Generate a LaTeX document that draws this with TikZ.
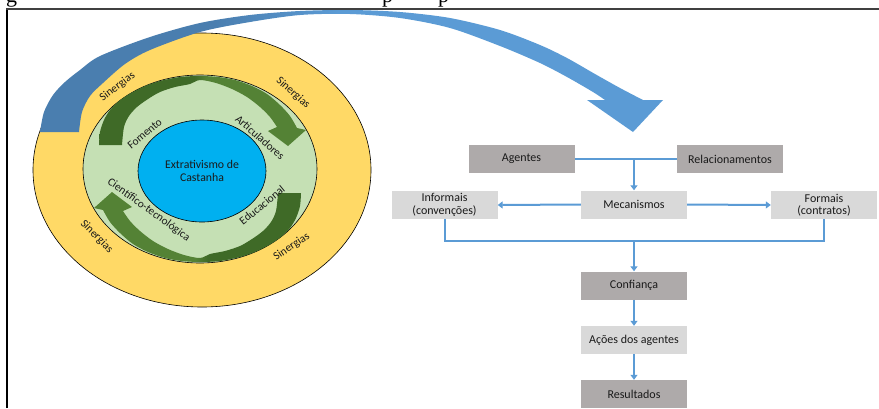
\documentclass[tikz,border=0pt]{standalone}
\usepackage{fontspec}
\setmainfont{Carlito}
\newfontfamily\titlefont{Liberation Serif}
\usetikzlibrary{arrows.meta,shapes.geometric}
\definecolor{goldring}{HTML}{FFD966}
\definecolor{greenring}{HTML}{C5E0B4}
\definecolor{corecol}{HTML}{00B0F0}
\definecolor{gdk}{HTML}{3F6A27}
\definecolor{glt}{HTML}{548235}
\definecolor{arrdk}{HTML}{4A7EAF}
\definecolor{arrlt}{HTML}{5B9BD5}
\definecolor{boxdk}{HTML}{AEAAAA}
\definecolor{boxlt}{HTML}{D9D9D9}
\definecolor{txt}{HTML}{1A1A1A}
\definecolor{framecol}{HTML}{404040}
\pgfdeclarehorizontalshading{bluearc}{100bp}{color(0bp)=(arrdk); color(39bp)=(arrdk); color(49bp)=(arrlt); color(100bp)=(arrlt)}
\pgfdeclarehorizontalshading{greentop}{100bp}{color(0bp)=(gdk); color(48bp)=(gdk); color(51bp)=(glt); color(100bp)=(glt)}
\pgfdeclarehorizontalshading{greenbot}{100bp}{color(0bp)=(glt); color(49.5bp)=(glt); color(52.5bp)=(gdk); color(100bp)=(gdk)}
\begin{document}
\begin{tikzpicture}[x=1pt,y=-1pt,
  fbox/.style={minimum width=106pt, minimum height=28pt, inner sep=0pt, text=txt,
    font=\fontsize{12}{12.5}\selectfont, align=center},
  boxdark/.style={fbox, fill=boxdk},
  boxlight/.style={fbox, fill=boxlt},
  conn/.style={draw=arrlt, line width=2pt},
  arr/.style={conn, -{Triangle[width=7pt,length=5pt]}},
  lbl/.style={font=\fontsize{11.3}{12}\selectfont, text=txt, inner sep=0pt},
  ring/.style={ellipse, draw=black, line width=0.6pt, inner sep=0pt}]
\useasboundingbox (0,0) rectangle (879,408);
\clip (0,0) rectangle (879,408);

% title fragments (cut off at the top)
\node[anchor=base west, inner sep=0pt, font=\titlefont\fontsize{22}{22}\selectfont] (tg) at (6,2.5) {g};
\node[anchor=base west, inner sep=0pt, font=\titlefont\fontsize{22}{22}\selectfont] (tp1) at (382,2.5) {p};
\node[anchor=base west, inner sep=0pt, font=\titlefont\fontsize{22}{22}\selectfont] (tp2) at (438,2.5) {p};

% rings
\node[ring, fill=goldring, minimum width=338pt, minimum height=274pt] (outer) at (202,170) {};

% big blue curved arrow
\shade[shading=bluearc]
  plot[smooth] coordinates {(40,132) (44,112) (53,95) (65,82) (80,70) (100,56) (150,37) (200,23) (250,15) (300,11) (350,10) (400,12) (450,18) (500,30) (540,45) (567,58) (595,74) (620,88) (643,100)}
  -- (663,100) -- (633,132) -- (587,100) -- (605,100)
  -- plot[smooth] coordinates {(605,100) (593,92) (567,77) (540,63) (500,46) (450,28) (400,18) (350,14) (300,15) (250,22) (200,32) (150,50) (125,64) (103,83) (90,96) (82,112) (79,132)}
  -- cycle;

\node[ring, fill=greenring, minimum width=234pt, minimum height=188pt] (mid) at (200,169) {};

% green curved arrows
\shade[shading=greentop]
  plot[smooth] coordinates {(99,145) (100,132) (104,120) (110,110) (119,101) (131,93) (145,86) (160,81) (180,77) (200,76) (218,77) (235,80) (252,86) (267,94) (280,105) (290,116) (297,128)}
  -- (306,130) -- (288,146) -- (268,131) -- (277,127)
  -- plot[smooth] coordinates {(277,127) (270,117) (260,107) (247,97) (232,89) (216,83) (200,80) (190,84) (175,87) (160,92) (148,99) (137,107) (129,116) (124,127) (122,145)}
  -- cycle;
\shade[shading=greenbot]
  plot[smooth] coordinates {(301,193) (300,206) (296,218) (290,228) (281,237) (269,245) (255,252) (240,257) (220,261) (200,262) (182,261) (165,258) (148,252) (133,244) (120,233) (110,222) (103,210)}
  -- (94,208) -- (112,192) -- (132,207) -- (123,211)
  -- plot[smooth] coordinates {(123,211) (130,221) (140,231) (153,241) (168,249) (184,255) (200,258) (210,254) (225,251) (240,246) (252,239) (263,231) (271,222) (276,211) (278,193)}
  -- cycle;

\node[ring, fill=corecol, minimum width=128pt, minimum height=102pt, align=center,
  font=\fontsize{11.8}{12.5}\selectfont, text=txt] (core) at (202,171) {Extrativismo de\\Castanha};

% ring labels
\node[lbl, rotate=40] (lfom) at (144.7,133.7) {Fomento};
\node[lbl, rotate=-41.5] (lart) at (260,137.4) {Articuladores};
\node[lbl, rotate=39] (ledu) at (262,205) {Educacional};
\node[lbl, rotate=-36] (lcie) at (148.7,210) {Científico-tecnológica};
\node[lbl, rotate=37] (s1) at (117.5,86.7) {Sinergias};
\node[lbl, rotate=-41.5] (s2) at (293,93) {Sinergias};
\node[lbl, rotate=-45] (s3) at (96.7,236.7) {Sinergias};
\node[lbl, rotate=34] (s4) at (291.7,246.7) {Sinergias};

% flowchart
\node[boxdark] (ag) at (521.5,159) {Agentes};
\node[boxdark] (rel) at (730,159) {Relacionamentos};
\node[boxlight] (mec) at (634,204.5) {Mecanismos};
\node[boxlight] (inf) at (444.5,205) {Informais\\(convenções)};
\node[boxlight] (for) at (824,205) {Formais\\(contratos)};
\node[boxdark] (conf) at (634,285.5) {Confiança};
\node[boxlight] (acoes) at (634,340) {Ações dos agentes};
\node[boxdark] (res) at (634,394) {Resultados};

\coordinate (top) at (mec.north |- ag.east);
\coordinate (bus) at (634,241);
\draw[conn] (ag.east) -- (rel.west);
\draw[arr] (top) -- (mec.north);
\draw[arr] (mec.west) -- (inf.east);
\draw[arr] (mec.east) -- (for.west);
\draw[conn] (inf.south) |- (bus) -| (for.south);
\draw[arr] (bus) -- (conf.north);
\draw[arr] (conf.south) -- (acoes.north);
\draw[arr] (acoes.south) -- (res.north);

% frame
\draw[black, line width=1.5pt] (7,408) -- (7,9);
\draw[framecol, line width=2pt] (6.25,9) -- (879,9);
\end{tikzpicture}
\end{document}
